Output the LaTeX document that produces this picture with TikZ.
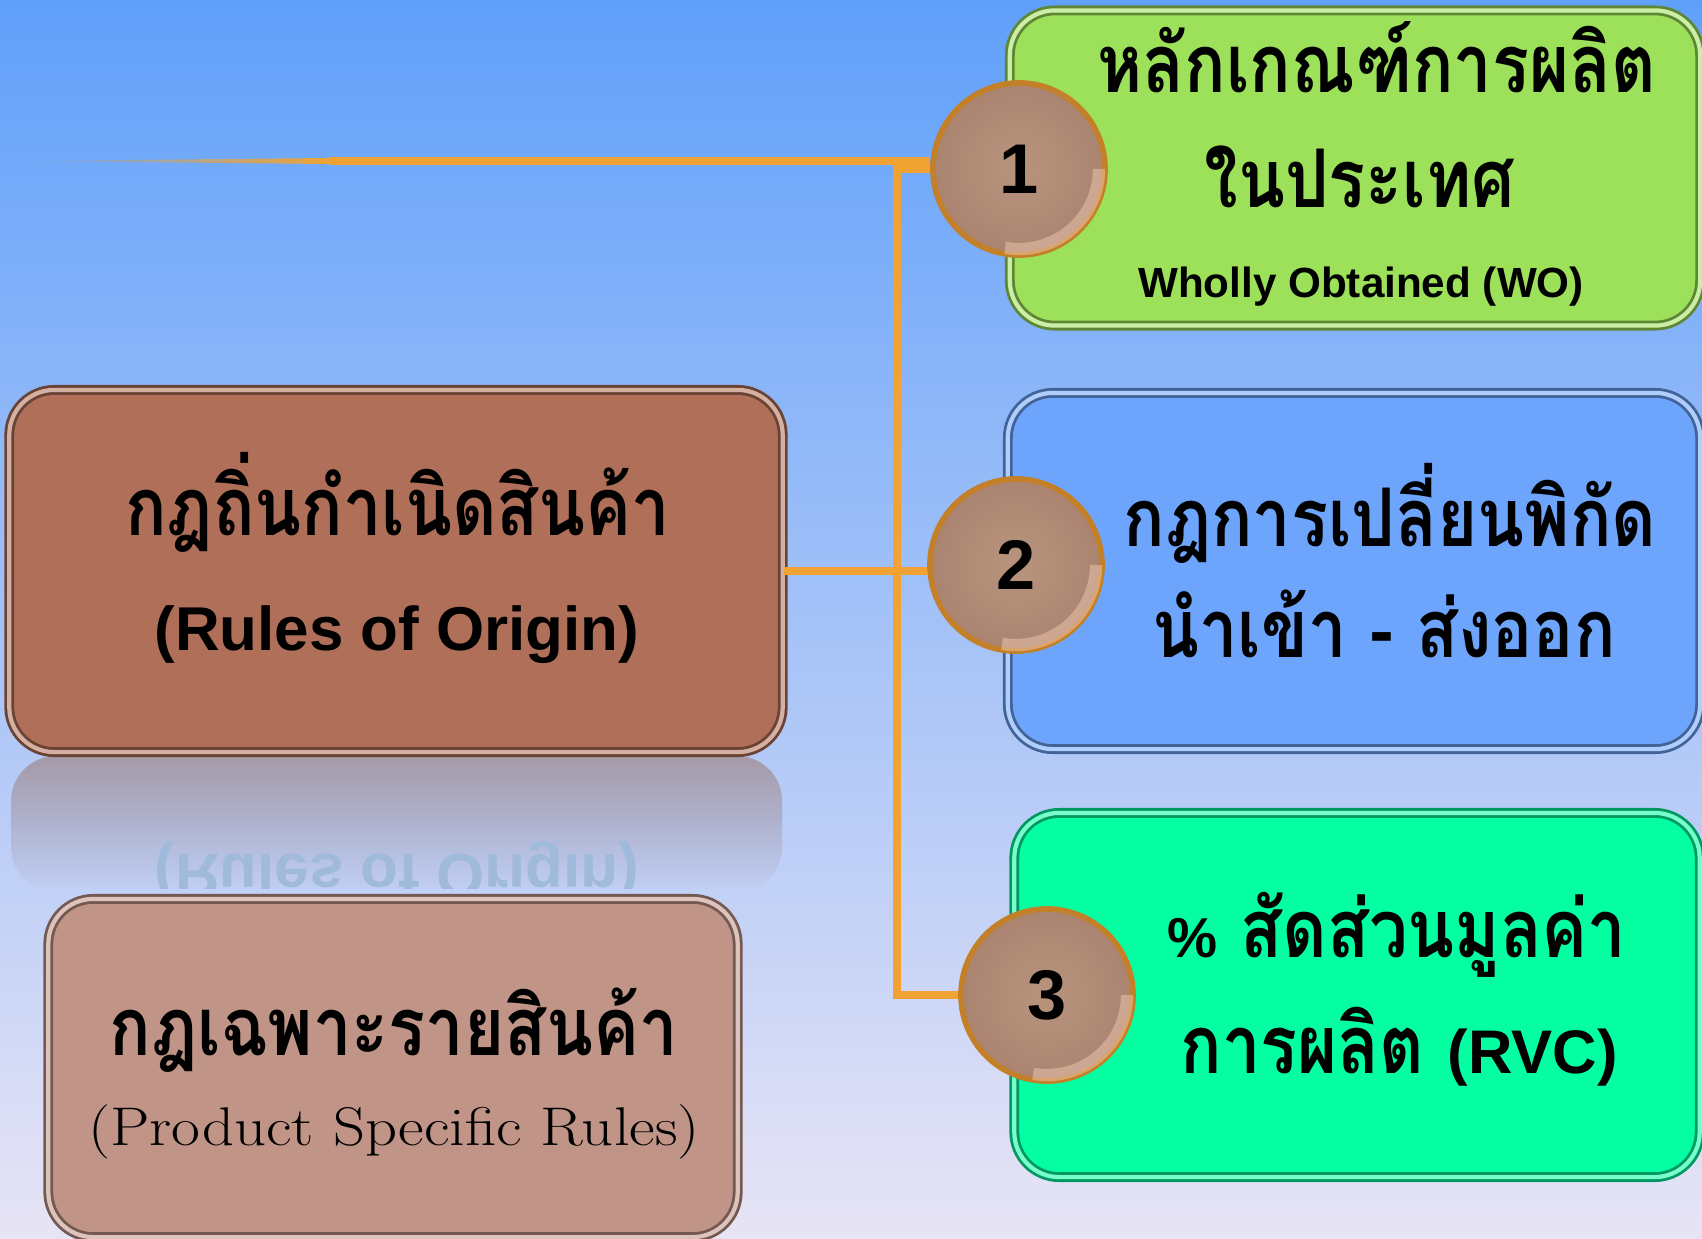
\documentclass[tikz,border=0pt]{standalone}
\usepackage{fontspec}
\newfontfamily\thaifont[Script=Thai, FakeStretch=0.85]{Loma}
\newfontfamily\sansfont{Liberation Sans}
\newfontfamily\widefont[FakeStretch=1.15]{Latin Modern Roman}
\usetikzlibrary{positioning, fadings}

\definecolor{bgtop}{RGB}{96,160,250}
\definecolor{bgmid}{RGB}{140,194,250}
\definecolor{bgbot}{RGB}{232,228,245}
\definecolor{linkorange}{RGB}{240,163,50}
\definecolor{fadeblue}{RGB}{104,168,254}
\definecolor{wogreen}{RGB}{157,224,90}
\definecolor{ctblue}{RGB}{110,165,252}
\definecolor{rvcgreen}{RGB}{5,254,162}
\definecolor{roobrown}{RGB}{176,111,88}
\definecolor{psrbrown}{RGB}{192,148,135}
\definecolor{coinlight}{RGB}{184,148,125}
\definecolor{coindark}{RGB}{170,132,112}
\definecolor{coinrim}{RGB}{196,128,40}
\definecolor{coinshine}{RGB}{240,200,178}
\definecolor{mirrortop}{RGB}{166,154,168}
\definecolor{mirrortext}{RGB}{160,186,220}

\begin{document}
\begin{tikzpicture}[x=0.01cm, y=-0.01cm,
  box/.style={rounded corners=0.45cm, fill=#1, draw=#1!60!black,
    line width=0.8pt, double=#1!55!white, double distance=1.2pt},
  num/.style={circle, minimum size=1.72cm, inner sep=0pt, draw=coinrim,
    line width=1.6pt, inner color=coinlight, outer color=coindark,
    font=\sansfont\bfseries\fontsize{20}{20}\selectfont},
  link/.style={draw=linkorange, line width=2pt},
  thai/.style={anchor=base, font=\thaifont\bfseries\fontsize{23}{27}\selectfont},
  latin/.style={anchor=base, font=\sansfont\bfseries\fontsize{17.6}{20}\selectfont}]

  % Parameters
  \def\W{1702}
  \def\H{1239}
  \def\r{0.8cm}

  % Background
  \shade[top color=bgtop, middle color=bgmid, bottom color=bgbot] (0,0) rectangle (\W,\H);
  \useasboundingbox (0,0) rectangle (\W,\H);

  % Mirror image under the main box
  \begin{scope}
    \clip (0,756) rectangle (800,888);
    \fill[mirrortop, path fading=south, rounded corners=0.45cm] (11,756) rectangle (782,892);
    \node[anchor=base, yscale=-1, text=mirrortext, font=\sansfont\bfseries\fontsize{17.6}{20}\selectfont] (mirror) at (397,854) {(Rules of Origin)};
  \end{scope}

  % Boxes
  \node[box=roobrown, minimum width=7.73cm, minimum height=3.62cm] (main) at (396,571) {};
  \node[box=psrbrown, minimum width=6.89cm, minimum height=3.38cm] (psr) at (393,1068) {};
  \node[box=wogreen, minimum width=6.90cm, minimum height=3.15cm] (wo) at (1355,168) {};
  \node[box=ctblue, minimum width=6.92cm, minimum height=3.56cm] (cth) at (1354,571) {};
  \node[box=rvcgreen, minimum width=6.85cm, minimum height=3.64cm] (rvc) at (1357,995) {};

  % Numbered discs
  \node[num] (c1) at (1019,169) {1};
  \node[num] (c2) at (1016,565) {2};
  \node[num] (c3) at (1047,995) {3};
  \foreach \c in {c1,c2,c3}
    \draw[coinshine, opacity=0.5, line width=3.5pt] ([shift={(-100:\r)}]\c.center) arc[start angle=-100, end angle=0, radius=\r];

  % Connectors
  \coordinate (spine) at (897,0);
  \coordinate (lineend) at (16,161);
  \coordinate (fade) at (330,161);
  \shade[left color=fadeblue, right color=linkorange] (lineend) -- (330,158) -- (330,164) -- cycle;
  \draw[link] (fade) -- (fade -| c1.west);
  \draw[link] (c1.west) -- (c1.west -| spine) -- (c3.west -| spine) -- (c3.west);
  \draw[link] (main.east) -- (main.east -| c2.west);

  % Labels
  \node[thai] (wo1) at (1377,92) {หลักเกณฑ์การผลิต};
  \node[thai] (wo2) at (1360,207) {ในประเทศ};
  \node[anchor=base, font=\sansfont\bfseries\fontsize{12}{14}\selectfont] (wo3) at (1361,297) {Wholly Obtained (WO)};
  \node[thai] (ct1) at (1390,546) {กฎการเปลี่ยนพิกัด};
  \node[thai] (ct2) at (1384,657) {นำเข้า - ส่งออก};
  \node[thai] (rvc1) at (1397,957) {{\sansfont\fontsize{16}{20}\selectfont\%} สัดส่วนมูลค่า};
  \node[thai] (rvc2) at (1399,1073) {การผลิต {\sansfont\fontsize{17.5}{20}\selectfont(RVC)}};
  \node[thai] (roo1) at (398,535) {กฎถิ่นกำเนิดสินค้า};
  \node[latin] (roo2) at (397,650) {(Rules of Origin)};
  \node[thai] (psr1) at (394,1055) {กฎเฉพาะรายสินค้า};
  \node[anchor=base, font=\widefont\fontsize{15.5}{18}\selectfont] (psr2) at (394,1145) {(Product Specific Rules)};

\end{tikzpicture}
\end{document}
